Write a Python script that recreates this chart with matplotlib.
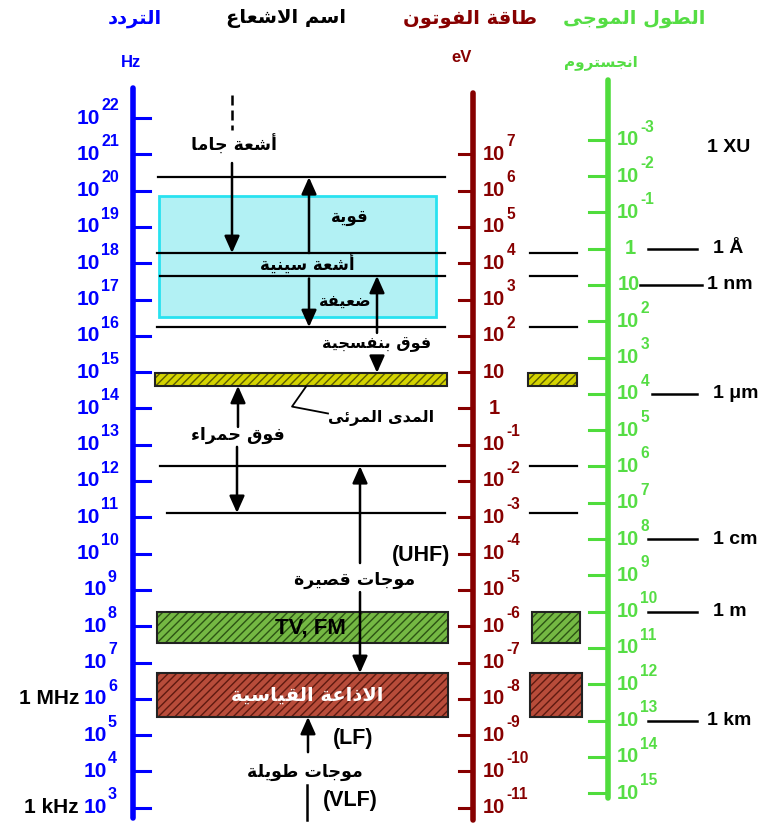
import matplotlib.pyplot as plt
from matplotlib.patches import Rectangle

# --- data ---
freq_exp = list(range(3, 23))           # Hz, 10^3 .. 10^22
energy_exp = list(range(-11, 8))        # eV, 10^-11 .. 10^7
wavelength_exp = list(range(-3, 16))    # angstrom, 10^-3 .. 10^15

# the chart lines up eV and angstrom against frequency with these shifts
energy_shift = 14.0       # log f = log E + 14
wavelength_shift = 18.4   # log f = 18.4 - log lambda

freq_names = ['1 MHz', '1 kHz']
freq_name_exp = [6, 3]

length_names = ['1 XU', '1 Å', '1 nm', '1 μm', '1 cm', '1 m', '1 km']
length_name_exp = [-3, 0, 1, 4, 8, 10, 13]

# borders between radiation types, log10(f / Hz)
boundaries = [20.37, 18.28, 17.65, 16.24, 12.41, 11.12]
xray_range = (16.52, 19.85)
visible_range = (14.62, 14.98)
tvfm_range = (7.54, 8.39)
am_range = (5.50, 6.71)

# --- colours ---
BLUE = '#0000ff'
DRED = '#870000'
GREEN = '#4fdc3c'
LGREEN = '#55dd44'
AR_FONT = 'DejaVu Sans'
LAT_FONT = 'Liberation Sans'

# --- tiny arabic shaper (matplotlib does no shaping or bidi) ---
AR_FORMS = {
    'ء': (0xFE80, 1), 'آ': (0xFE81, 2), 'أ': (0xFE83, 2), 'ؤ': (0xFE85, 2),
    'إ': (0xFE87, 2), 'ئ': (0xFE89, 4), 'ا': (0xFE8D, 2), 'ب': (0xFE8F, 4),
    'ة': (0xFE93, 2), 'ت': (0xFE95, 4), 'ث': (0xFE99, 4), 'ج': (0xFE9D, 4),
    'ح': (0xFEA1, 4), 'خ': (0xFEA5, 4), 'د': (0xFEA9, 2), 'ذ': (0xFEAB, 2),
    'ر': (0xFEAD, 2), 'ز': (0xFEAF, 2), 'س': (0xFEB1, 4), 'ش': (0xFEB5, 4),
    'ص': (0xFEB9, 4), 'ض': (0xFEBD, 4), 'ط': (0xFEC1, 4), 'ظ': (0xFEC5, 4),
    'ع': (0xFEC9, 4), 'غ': (0xFECD, 4), 'ف': (0xFED1, 4), 'ق': (0xFED5, 4),
    'ك': (0xFED9, 4), 'ل': (0xFEDD, 4), 'م': (0xFEE1, 4), 'ن': (0xFEE5, 4),
    'ه': (0xFEE9, 4), 'و': (0xFEED, 2), 'ى': (0xFEEF, 2), 'ي': (0xFEF1, 4),
}
LAM_ALEF = {'ا': 0xFEFB, 'أ': 0xFEF7, 'إ': 0xFEF9, 'آ': 0xFEF5}


def shape_ar(text):
    chars = list(text)
    out = []
    prev_joins = False
    i = 0
    while i < len(chars):
        c = chars[i]
        if c not in AR_FORMS:
            out.append(c)
            prev_joins = False
            i += 1
            continue
        nxt = chars[i + 1] if i + 1 < len(chars) else ''
        if c == 'ل' and nxt in LAM_ALEF:
            out.append(chr(LAM_ALEF[nxt] + (1 if prev_joins else 0)))
            prev_joins = False
            i += 2
            continue
        base, nforms = AR_FORMS[c]
        next_ok = nforms == 4 and nxt in AR_FORMS
        if prev_joins and next_ok:
            code = base + 3
        elif prev_joins:
            code = base + 1 if nforms > 1 else base
        elif next_ok:
            code = base + 2
        else:
            code = base
        out.append(chr(code))
        prev_joins = next_ok
        i += 1
    return ''.join(reversed(out))


PX_PER_DEC = 36.3   # pixels per decade of frequency
fig = plt.figure(figsize=(7.76, 8.23), dpi=100)
ax = fig.add_axes([0, 0, 1, 1])
ax.set_xlim(0, 776)
ax.set_ylim(22 - (823 - 118) / PX_PER_DEC, 22 + 118 / PX_PER_DEC)
ax.axis('off')
plt.rcParams['hatch.linewidth'] = 1.0


def artext(x, y, s, color='black', size=11.5, **kw):
    ax.text(x, y, shape_ar(s), color=color, fontsize=size, family=AR_FONT,
            weight='bold', ha=kw.pop('ha', 'center'), va='center', **kw)


def lat(x, y, s, size=13, ha='left', color='black', **kw):
    ax.text(x, y, s, ha=ha, va='center', color=color, fontsize=size,
            weight='bold', family=LAT_FONT, **kw)


def power_label(x, y, exp, color, size, align):
    s = str(exp)
    if align == 'right':
        x10 = x - 7 * len(s)
        lat(x10, y, '10', size, 'right', color)
    else:
        x10 = x + 1.55 * size
        lat(x, y, '10', size, 'left', color)
    lat(x10 + 1, y + 0.35, s, size * 0.77, 'left', color)


# --- frequency axis (blue) ---
ax.plot([133, 133], [22.83, 2.72], color=BLUE, lw=4, solid_capstyle='round')
for e in freq_exp:
    ax.plot([133, 150], [e, e], color=BLUE, lw=2.2)
    power_label(114, e, e, BLUE, 15, 'right')
for name, e in zip(freq_names, freq_name_exp):
    lat(79, e, name, 15, 'right')

# --- energy axis (dark red) ---
ax.plot([473, 473], [22.69, 2.66], color=DRED, lw=4, solid_capstyle='round')
for e in energy_exp:
    y = e + energy_shift
    ax.plot([459, 473], [y, y], color=DRED, lw=2.2)
    if e == 0:
        lat(489, y, '1', 14.5, color=DRED)
    elif e == 1:
        lat(483, y, '10', 14.5, color=DRED)
    else:
        power_label(483, y, e, DRED, 14.5, 'left')

# --- wavelength axis (green) ---
ax.plot([608, 608], [23.05, 3.27], color=GREEN, lw=4, solid_capstyle='round')
for e in wavelength_exp:
    y = wavelength_shift - e
    ax.plot([589, 608], [y, y], color=GREEN, lw=2.2)
    if e == 0:
        lat(625, y, '1', 14.5, color=LGREEN)
    elif e == 1:
        lat(618, y, '10', 14.5, color=LGREEN)
    else:
        power_label(617, y, e, LGREEN, 14.5, 'left')
text_x = [707, 713, 707, 713, 713, 713, 707]
line_x = [None, (648, 697), (640, 702), (652, 697), (648, 697), (648, 697),
          (648, 697)]
for name, e, tx, lx in zip(length_names, length_name_exp, text_x, line_x):
    y = wavelength_shift - e
    if lx is None:
        lat(tx, y - 0.2, name, 14)
    else:
        ax.plot(lx, [y, y], color='black', lw=1.8)
        lat(tx, y, name, 14)

# --- headers ---
artext(135, 24.75, 'التردد', BLUE, 14)
artext(286, 24.75, 'اسم الاشعاع', 'black', 14)
artext(470, 24.75, 'طاقة الفوتون', DRED, 14)
artext(634, 24.75, 'الطول الموجى', LGREEN, 14)
lat(131, 23.54, 'Hz', 12, 'center', BLUE)
lat(462, 23.68, 'eV', 12, 'center', DRED)
artext(601, 23.52, 'انجستروم', LGREEN, 11)

# --- x-ray box and borders ---
ax.add_patch(Rectangle((159, xray_range[0]), 277, xray_range[1] - xray_range[0],
                       facecolor='#b2f1f4', edgecolor='#28e2f0', lw=2, zorder=1))
left_x = [158, 157, 160, 157, 160, 167]
for b, x0 in zip(boundaries, left_x):
    ax.plot([x0, 445], [b, b], color='black', lw=1.6, zorder=2)
for b in boundaries[1:]:
    ax.plot([530, 577], [b, b], color='black', lw=1.6)


def band(x0, x1, rng, fill, hatch_col, z=2):
    h = rng[1] - rng[0]
    ax.add_patch(Rectangle((x0, rng[0]), x1 - x0, h, facecolor=fill,
                           edgecolor='none', zorder=z))
    ax.add_patch(Rectangle((x0, rng[0]), x1 - x0, h, facecolor='none',
                           edgecolor=hatch_col, hatch='////', lw=0, zorder=z))
    ax.add_patch(Rectangle((x0, rng[0]), x1 - x0, h, facecolor='none',
                           edgecolor='#222222', lw=1.5, zorder=z))


band(155, 447, visible_range, '#d4d400', '#5c5c00')
band(528, 577, visible_range, '#d4d400', '#5c5c00')
band(157, 448, tvfm_range, '#74b843', '#2c5414')
band(532, 580, tvfm_range, '#74b843', '#2c5414')
band(157, 448, am_range, '#b84c3a', '#5e1a10')
band(530, 582, am_range, '#b84c3a', '#5e1a10')

# --- arrows: (x, from, to) in log f ---
arrows = [
    (232, 20.76, 18.28), (309, 18.28, 20.37), (309, 17.58, 16.24),
    (377, 16.08, 17.65), (377, 15.39, 14.98), (238, 13.49, 14.62),
    (237, 12.94, 11.12), (360, 9.74, 12.41), (360, 8.94, 6.71),
    (308, 4.53, 5.50),
]
for x, y0, y1 in arrows:
    ax.annotate('', xy=(x, y1), xytext=(x, y0), zorder=4,
                arrowprops=dict(arrowstyle='-|>,head_length=0.85,head_width=0.38',
                                mutation_scale=12, color='black', lw=1.8,
                                shrinkA=0, shrinkB=0))
ax.plot([232, 232], [22.63, 21.67], color='black', lw=1.8, ls=(0, (4, 2)))
ax.plot([307, 307], [3.63, 2.66], color='black', lw=1.8)
# leader to the visible band
ax.plot([306, 292, 328], [14.60, 14.05, 13.86], color='black', lw=1.3)

# --- radiation names ---
artext(234, 21.26, 'أشعة جاما', size=12.5)
artext(350, 19.27, 'قوية', size=12)
artext(307, 17.96, 'أشعة سينية', size=12)
artext(345, 16.93, 'ضعيفة')
artext(377, 15.75, 'فوق بنفسجية')
artext(381, 13.74, 'المدى المرئى')
artext(238, 13.27, 'فوق حمراء', size=12.5)
artext(355, 9.27, 'موجات قصيرة', size=12.5)
artext(307, 6.10, 'الاذاعة القياسية', 'white', 14, zorder=5)
artext(305, 3.98, 'موجات طويلة', size=12.5)
lat(310, 7.96, 'TV, FM', 16, 'center', zorder=5)
lat(450, 9.96, '(UHF)', 15.5, 'right')
lat(333, 4.92, '(LF)', 15.5)
lat(323, 3.21, '(VLF)', 15.5)

fig.savefig('out.png', dpi=100, facecolor='white')
